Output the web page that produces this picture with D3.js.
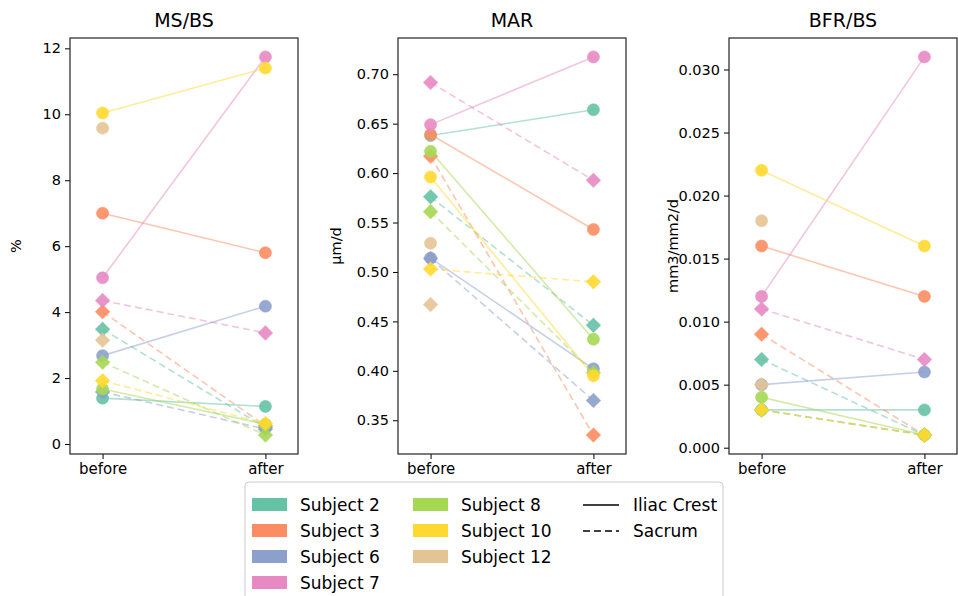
<!DOCTYPE html>
<html><head><meta charset="utf-8">
<script src="https://cdn.jsdelivr.net/npm/d3@7"></script>
<style>body{margin:0;background:#fff;}svg{display:block;font-family:"DejaVu Sans",sans-serif;}</style>
</head><body>
<script>
const subjects = ["Subject 2","Subject 3","Subject 6","Subject 7","Subject 8","Subject 10","Subject 12"];
const colors = ["#66c2a5","#fc8d62","#8da0cb","#e78ac3","#a6d854","#ffd92f","#e5c494"];
const timepoints = ["before","after"];
const sites = ["Iliac Crest","Sacrum"];
const titles = ["MS/BS","MAR","BFR/BS"];
const yLabels = ["%","μm/d","mm3/mm2/d"];

// MS/BS
const msbsIcBefore  = [1.39, 7.00, 2.68, 5.04, 1.67, 10.04, 9.58];
const msbsIcAfter   = [1.14, 5.80, 4.18, 11.74, 0.60, 11.40, null];
const msbsSacBefore = [3.48, 4.01, 1.58, 4.35, 2.48, 1.92, 3.15];
const msbsSacAfter  = [0.50, 0.55, 0.45, 3.37, 0.27, 0.62, null];
// MAR
const marIcBefore  = [0.638, 0.639, 0.514, 0.649, 0.622, 0.596, 0.529];
const marIcAfter   = [0.664, 0.543, 0.402, 0.7175, 0.432, 0.395, null];
const marSacBefore = [0.576, 0.617, 0.5135, 0.6916, 0.561, 0.503, 0.467];
const marSacAfter  = [0.446, 0.335, 0.370, 0.5927, 0.398, 0.490, null];
// BFR/BS
const bfrIcBefore  = [0.003, 0.016, 0.005, 0.012, 0.004, 0.022, 0.018];
const bfrIcAfter   = [0.003, 0.012, 0.006, 0.031, 0.001, 0.016, null];
const bfrSacBefore = [0.007, 0.009, 0.003, 0.011, 0.003, 0.003, 0.005];
const bfrSacAfter  = [0.001, 0.001, 0.001, 0.007, 0.001, 0.001, null];

const msbsTicks = [0,2,4,6,8,10,12];
const marTicks = [0.35,0.40,0.45,0.50,0.55,0.60,0.65,0.70];
const bfrTicks = [0.000,0.005,0.010,0.015,0.020,0.025,0.030];

const panels = [
  {ic:[msbsIcBefore,msbsIcAfter], sac:[msbsSacBefore,msbsSacAfter], ticks:msbsTicks, fmt:d3.format("d")},
  {ic:[marIcBefore,marIcAfter], sac:[marSacBefore,marSacAfter], ticks:marTicks, fmt:d3.format(".2f")},
  {ic:[bfrIcBefore,bfrIcAfter], sac:[bfrSacBefore,bfrSacAfter], ticks:bfrTicks, fmt:d3.format(".3f")}
];

const W = 958, H = 596;
const svg = d3.select("body").append("svg").attr("width",W).attr("height",H);
const lefts = [70, 398, 729], pw = 228, topY = 38, bottomY = 454;
const ylabX = [21, 341, 678];
const tickFont = 14.5;

panels.forEach((p,i) => {
  const all = [...p.ic[0],...p.ic[1],...p.sac[0],...p.sac[1]].filter(v => v!=null);
  const mn = d3.min(all), mx = d3.max(all), pad = (mx-mn)*0.05;
  const y = d3.scaleLinear().domain([mn-pad, mx+pad]).range([bottomY, topY]);
  const x = d3.scaleLinear().domain([-0.2, 1.2]).range([lefts[i], lefts[i]+pw]);
  const g = svg.append("g");

  g.append("text").attr("x", lefts[i]+pw/2).attr("y", 27).attr("text-anchor","middle")
    .attr("font-size",19).attr("fill","#000").text(titles[i]);
  g.append("text").attr("transform",`translate(${ylabX[i]},${(topY+bottomY)/2}) rotate(-90)`)
    .attr("text-anchor","middle").attr("font-size",14.5).attr("fill","#000").text(yLabels[i]);

  const ya = d3.axisLeft(y).tickValues(p.ticks).tickFormat(p.fmt).tickSize(5).tickPadding(4);
  const yg = g.append("g").attr("transform",`translate(${lefts[i]},0)`).call(ya);
  yg.select(".domain").remove();
  yg.selectAll("text").attr("font-size",tickFont).attr("fill","#000").attr("font-family","DejaVu Sans, sans-serif");
  yg.selectAll("line").attr("stroke","#000");
  const xa = d3.axisBottom(x).tickValues([0,1]).tickFormat(d=>timepoints[d]).tickSize(5).tickPadding(4);
  const xg = g.append("g").attr("transform",`translate(0,${bottomY})`).call(xa);
  xg.select(".domain").remove();
  xg.selectAll("text").attr("font-size",15).attr("fill","#000").attr("font-family","DejaVu Sans, sans-serif");
  xg.selectAll("line").attr("stroke","#000");

  subjects.forEach((s,k) => {
    [["ic",null],["sac","7,4"]].forEach(([key,dash]) => {
      const b = p[key][0][k], a = p[key][1][k];
      const col = colors[k];
      if (b!=null && a!=null) {
        g.append("line").attr("x1",x(0)).attr("y1",y(b)).attr("x2",x(1)).attr("y2",y(a))
          .attr("stroke",col).attr("stroke-width",1.6).attr("stroke-opacity",0.5)
          .attr("stroke-dasharray",dash);
      }
      [[0,b],[1,a]].forEach(([t,v]) => {
        if (v==null) return;
        if (key==="ic") {
          g.append("circle").attr("cx",x(t)).attr("cy",y(v)).attr("r",6)
            .attr("fill",col).attr("fill-opacity",0.9).attr("stroke",col).attr("stroke-opacity",0.6).attr("stroke-width",1);
        } else {
          g.append("path").attr("d",d3.symbol().type(d3.symbolSquare).size(100)())
            .attr("transform",`translate(${x(t)},${y(v)}) rotate(45)`)
            .attr("fill",col).attr("fill-opacity",0.9).attr("stroke",col).attr("stroke-opacity",0.6).attr("stroke-width",1);
        }
      });
    });
  });

  g.append("rect").attr("x",lefts[i]).attr("y",topY).attr("width",pw).attr("height",bottomY-topY)
    .attr("fill","none").attr("stroke","#222").attr("stroke-width",1.2);
});

const lg = svg.append("g");
lg.append("rect").attr("x",245).attr("y",482).attr("width",478).attr("height",130).attr("rx",4)
  .attr("fill","#fff").attr("stroke","#ccc").attr("stroke-width",1);
const rowY = [505, 531, 557, 583];
subjects.forEach((s,k) => {
  const col = k < 4 ? 0 : 1, row = k < 4 ? k : k-4;
  const px = col===0 ? 252 : 413, tx = col===0 ? 300 : 461;
  lg.append("rect").attr("x",px).attr("y",rowY[row]-7).attr("width",35).attr("height",13).attr("fill",colors[k]);
  lg.append("text").attr("x",tx).attr("y",rowY[row]+6).attr("font-size",17).attr("fill","#000").text(s);
});
sites.forEach((s,k) => {
  lg.append("line").attr("x1",583).attr("x2",619).attr("y1",rowY[k]).attr("y2",rowY[k])
    .attr("stroke","#000").attr("stroke-width",1.6).attr("stroke-dasharray", k===0 ? null : "7,4");
  lg.append("text").attr("x",633).attr("y",rowY[k]+6).attr("font-size",17).attr("fill","#000").text(s);
});
</script>
</body></html>
